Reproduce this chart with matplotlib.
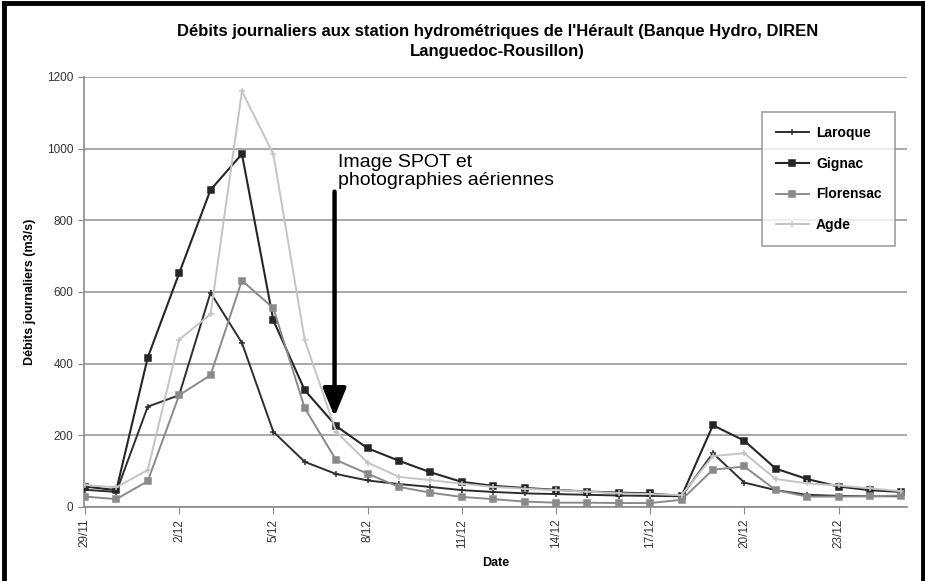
import matplotlib
matplotlib.use("Agg")
import matplotlib.pyplot as plt
from matplotlib import font_manager

# daily discharge (m3/s), one value per day from 29/11 to 25/12
dates = ["29/11", "30/11", "1/12", "2/12", "3/12", "4/12", "5/12", "6/12", "7/12",
         "8/12", "9/12", "10/12", "11/12", "12/12", "13/12", "14/12", "15/12",
         "16/12", "17/12", "18/12", "19/12", "20/12", "21/12", "22/12", "23/12",
         "24/12", "25/12"]

laroque = [48, 42, 280, 312, 598, 458, 210, 126, 92, 74, 64, 56, 47, 42, 38,
           36, 34, 32, 31, 30, 150, 68, 47, 34, 31, 30, 30]
gignac = [57, 47, 417, 652, 885, 985, 521, 326, 226, 164, 129, 97, 70, 59, 53,
          48, 43, 40, 38, 30, 228, 185, 107, 78, 57, 47, 42]
florensac = [29, 22, 72, 312, 368, 632, 555, 276, 131, 93, 56, 40, 28, 22, 15,
             12, 12, 11, 11, 20, 104, 113, 47, 29, 29, 30, 32]
agde = [61, 55, 103, 467, 538, 1160, 985, 466, 210, 124, 84, 75, 65, 56, 51,
        47, 43, 38, 36, 33, 142, 150, 78, 66, 60, 52, 44]

series = [
    ("Laroque", laroque, "#2e2e2e", "+", 4, 1.4),
    ("Gignac", gignac, "#262626", "s", 4.5, 1.5),
    ("Florensac", florensac, "#8a8a8a", "s", 4, 1.4),
    ("Agde", agde, "#c4c4c4", "+", 4, 1.4),
]

names = {f.name for f in font_manager.fontManager.ttflist}
narrow = "Liberation Sans Narrow" if "Liberation Sans Narrow" in names else "Liberation Sans"
plt.rcParams["font.family"] = "Liberation Sans"

fig = plt.figure(figsize=(9.25, 5.81), dpi=100)
ax = fig.add_axes([0.0908, 0.1274, 0.8897, 0.7401])

x = list(range(len(dates)))
for label, vals, color, marker, ms, lw in series:
    ax.plot(x, vals, color=color, marker=marker, markersize=ms, linewidth=lw,
            markeredgewidth=1.1, label=label, zorder=3)

ax.set_ylim(0, 1200)
ax.set_xlim(-0.03, 26.18)
ax.set_yticks(range(0, 1201, 200))
ax.set_xticks(x[::3])
ax.set_xticklabels(dates[::3], rotation=90, fontsize=8.5, color="#333333",
                   family=narrow)
ax.tick_params(axis="y", labelsize=8.5, labelcolor="#333333", color="#888888",
               length=4)
ax.tick_params(axis="x", color="#888888", length=5, direction="out")
for lab in ax.get_yticklabels():
    lab.set_family(narrow)

ax.grid(axis="y", color="#9a9a9a", linewidth=1.2, zorder=0)
ax.set_axisbelow(True)
for side in ("top", "right"):
    ax.spines[side].set_visible(False)
ax.spines["left"].set_color("#8a8a8a")
ax.spines["bottom"].set_color("#8a8a8a")
ax.spines["left"].set_linewidth(1.2)
ax.spines["bottom"].set_linewidth(1.2)

ax.set_xlabel("Date", fontsize=9, fontweight="bold", family=narrow, labelpad=6)
ax.set_ylabel("Débits journaliers (m3/s)", fontsize=9, fontweight="bold",
              family=narrow, labelpad=8)

fig.text(0.538, 0.958,
         "Débits journaliers aux station hydrométriques de l'Hérault (Banque Hydro, DIREN\n"
         "Languedoc-Rousillon)",
         ha="center", va="top", fontsize=12, fontweight="bold", family=narrow,
         linespacing=1.35)

# acquisition date of the SPOT image and aerial photos
ax.annotate("", xy=(7.95, 252), xytext=(7.95, 880),
            arrowprops=dict(arrowstyle="-|>,head_width=0.7,head_length=1.7",
                            color="black", linewidth=3.2, shrinkA=0, shrinkB=0),
            zorder=5)
ax.text(8.05, 985, "Image SPOT et\nphotographies aériennes", fontsize=14,
        ha="left", va="top", linespacing=1.05, zorder=5)

leg = ax.legend(loc="upper right", bbox_to_anchor=(0.986, 0.918), frameon=True,
                fancybox=False, shadow=False, fontsize=10, handlelength=2.4,
                handletextpad=0.5, labelspacing=1.2, borderpad=1.0,
                borderaxespad=0)
leg.get_frame().set_edgecolor("#888888")
leg.get_frame().set_linewidth(1.2)
for t in leg.get_texts():
    t.set_fontweight("bold")
    t.set_family(narrow)

# black outer frame
for xs, ys in [([0.004, 0.004], [0, 0.994]), ([0.004, 0.998], [0.994, 0.994]),
               ([0.998, 0.998], [0, 0.994])]:
    fig.add_artist(plt.Line2D(xs, ys, color="black", linewidth=3.5,
                              transform=fig.transFigure))

fig.savefig("out.png", dpi=100)
